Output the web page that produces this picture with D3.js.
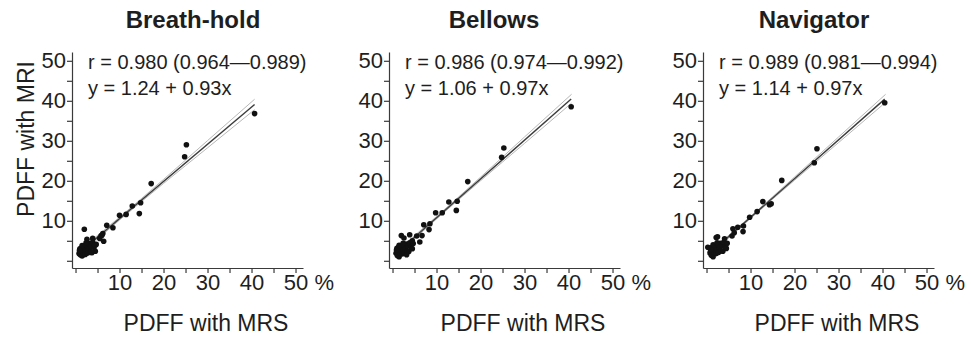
<!DOCTYPE html>
<html>
<head>
<meta charset="utf-8">
<script src="https://cdn.jsdelivr.net/npm/d3@7"></script>
<style>
  body { margin: 0; background: #fff; }
  text { font-family: "Liberation Sans", Arial, sans-serif; fill: #1e1e1e; }
</style>
</head>
<body>
<svg id="chart" width="971" height="341"></svg>
<script>
// panel data
const panelTitles = ["Breath-hold", "Bellows", "Navigator"];
const rLabels = ["r = 0.980 (0.964\u20140.989)", "r = 0.986 (0.974\u20140.992)", "r = 0.989 (0.981\u20140.994)"];
const eqLabels = ["y = 1.24 + 0.93x", "y = 1.06 + 0.97x", "y = 1.14 + 0.97x"];
const fitIntercepts = [1.24, 1.06, 1.14];
const fitSlopes = [0.93, 0.97, 0.97];
// confidence band half widths read at these x positions
const ciX = [0.5, 10, 20, 30, 40.7];
const ciHalf = [
  [0.6, 0.35, 0.5, 0.9, 1.3],
  [0.5, 0.3, 0.45, 0.8, 1.1],
  [0.45, 0.25, 0.4, 0.7, 1.0]
];
const tickValues = [0, 5, 10, 15, 20, 25, 30, 35, 40, 45, 50];
const tickLabels = [10, 20, 30, 40, 50];

// [MRS, MRI]
const breathHoldPts = [
  [0.8,1.8],[1.0,2.2],[1.1,1.5],[1.2,2.8],[1.3,3.2],[1.4,2.0],[1.5,1.2],[1.6,2.5],[1.7,3.5],[1.8,1.9],
  [1.9,2.9],[2.0,3.8],[2.1,2.3],[2.2,1.6],[2.3,3.1],[2.5,2.6],[2.6,4.0],[2.7,1.9],[2.8,3.4],[3.0,2.9],
  [3.1,4.3],[3.3,2.2],[3.5,3.6],[3.7,2.0],[3.9,4.6],[4.2,3.3],[4.5,2.4],[4.7,4.1],[1.0,3.0],[1.5,3.8],
  [2.4,4.5],[0.9,2.6],
  [2.0,7.9],[2.6,5.4],[3.6,2.25],[4.3,3.9],[3.9,5.6],[5.5,5.6],[5.8,6.25],[6.2,6.8],[6.4,4.9],[6.0,6.4],
  [7.1,8.9],[8.5,8.25],[10.0,11.4],[11.5,11.6],[12.9,13.7],[14.5,11.8],[14.8,14.5],[17.2,19.3],
  [24.8,26.0],[25.2,29.0],[40.7,36.8]
];
const bellowsPts = [
  [0.8,1.9],[1.0,2.4],[1.1,1.3],[1.2,2.9],[1.3,3.3],[1.4,2.1],[1.5,1.0],[1.6,2.6],[1.7,3.4],[1.8,1.8],
  [1.9,3.0],[2.0,3.7],[2.1,2.4],[2.2,1.7],[2.3,3.2],[2.5,2.7],[2.6,3.9],[2.7,2.0],[2.8,3.5],[3.0,3.0],
  [3.1,4.2],[3.3,2.4],[3.5,3.7],[3.7,2.3],[3.9,4.5],[4.2,3.4],[4.5,3.0],[4.7,4.3],[1.0,3.1],[1.5,3.9],
  [2.4,4.4],[0.9,2.7],
  [2.0,6.3],[2.6,5.7],[3.2,1.5],[3.9,6.5],[4.5,5.0],[5.5,6.2],[6.2,4.7],[6.7,6.3],[7.1,9.0],[8.3,7.8],
  [8.5,9.25],[9.8,12.0],[11.3,12.0],[12.8,14.7],[14.5,12.6],[14.7,14.9],[17.1,19.8],
  [24.8,25.9],[25.3,28.2],[40.6,38.5]
];
const navigatorPts = [
  [0.8,2.0],[1.0,2.5],[1.1,1.4],[1.2,3.0],[1.3,3.4],[1.4,2.2],[1.5,1.0],[1.6,2.7],[1.7,3.6],[1.8,1.9],
  [1.9,3.1],[2.0,3.9],[2.1,2.5],[2.2,1.8],[2.3,3.3],[2.5,2.8],[2.6,4.1],[2.7,2.1],[2.8,3.6],[3.0,3.1],
  [3.1,4.4],[3.3,2.5],[3.5,3.8],[3.7,2.4],[3.9,4.6],[4.2,3.5],[4.5,3.1],[4.7,4.4],[1.0,3.2],[1.5,4.0],
  [2.4,4.5],[0.9,2.8],
  [0.3,3.4],[2.2,5.8],[2.5,6.0],[4.1,5.5],[5.8,6.2],[6.0,8.0],[6.3,7.0],[7.1,8.4],[8.3,7.3],[8.4,8.7],
  [9.8,10.9],[11.5,12.3],[12.8,14.8],[14.3,14.0],[14.7,14.25],[17.1,20.1],
  [24.5,24.5],[25.1,28.0],[40.5,39.5]
];
const panelPoints = [breathHoldPts, bellowsPts, navigatorPts];

// layout
const panelX0 = [72, 389, 703];
const titleX = [193, 494, 814];

const svg = d3.select('#chart');

panelTitles.forEach((title, i) => {
  const x0 = panelX0[i];
  const x = d3.scaleLinear().domain([-0.8, 51.7]).range([x0, x0 + 231]);
  const y = d3.scaleLinear().domain([-1.8, 52.2]).range([268, 52]);
  const g = svg.append('g');

  const fmt = d => tickLabels.includes(d) ? d : "";

  const xAxis = g.append('g')
    .attr('transform', 'translate(0,268)')
    .call(d3.axisBottom(x).tickValues(tickValues).tickSize(5).tickSizeOuter(0).tickPadding(1).tickFormat(fmt));
  const yAxis = g.append('g')
    .attr('transform', `translate(${x0},0)`)
    .call(d3.axisLeft(y).tickValues(tickValues).tickSize(5).tickSizeOuter(0).tickPadding(1).tickFormat(fmt));

  [xAxis, yAxis].forEach(ax => {
    ax.attr('font-size', 22).attr('font-family', '"Liberation Sans", Arial, sans-serif');
    ax.selectAll('path, line').attr('stroke', '#3a3a3a').attr('stroke-width', 1.2);
    ax.selectAll('text').attr('fill', '#1e1e1e');
  });

  g.append('text')
    .attr('x', x(50) + 19)
    .attr('y', 274)
    .attr('dy', '0.71em')
    .attr('font-size', 22)
    .text('%');

  // confidence band
  const a = fitIntercepts[i], b = fitSlopes[i];
  const band = d3.line().x(d => x(d[0])).y(d => y(d[1])).curve(d3.curveMonotoneX);
  [1, -1].forEach(s => {
    g.append('path')
      .attr('d', band(ciX.map((cx, k) => [cx, a + b * cx + s * ciHalf[i][k]])))
      .attr('fill', 'none')
      .attr('stroke', '#b8b8b8')
      .attr('stroke-width', 1);
  });

  // fit line
  const pts = panelPoints[i];
  const xExt = d3.extent(pts, d => d[0]);
  g.append('line')
    .attr('x1', x(xExt[0])).attr('y1', y(a + b * xExt[0]))
    .attr('x2', x(xExt[1])).attr('y2', y(a + b * xExt[1]))
    .attr('stroke', '#3c3c3c')
    .attr('stroke-width', 1.4);

  g.selectAll('circle')
    .data(pts)
    .join('circle')
    .attr('cx', d => x(d[0]))
    .attr('cy', d => y(d[1]))
    .attr('r', 2.8)
    .attr('fill', '#111');

  g.append('text')
    .attr('x', titleX[i]).attr('y', 28)
    .attr('text-anchor', 'middle')
    .attr('font-size', 24)
    .attr('font-weight', 'bold')
    .text(title);

  g.append('text')
    .attr('x', x0 + 16).attr('y', 69)
    .attr('font-size', 20)
    .text(rLabels[i]);
  g.append('text')
    .attr('x', x0 + 16).attr('y', 95)
    .attr('font-size', 20)
    .text(eqLabels[i]);

  g.append('text')
    .attr('x', x0 + 134).attr('y', 331)
    .attr('text-anchor', 'middle')
    .attr('font-size', 23)
    .text('PDFF with MRS');
});

svg.append('text')
  .attr('transform', 'translate(34,139) rotate(-90)')
  .attr('text-anchor', 'middle')
  .attr('font-size', 23)
  .text('PDFF with MRI');
</script>
</body>
</html>
